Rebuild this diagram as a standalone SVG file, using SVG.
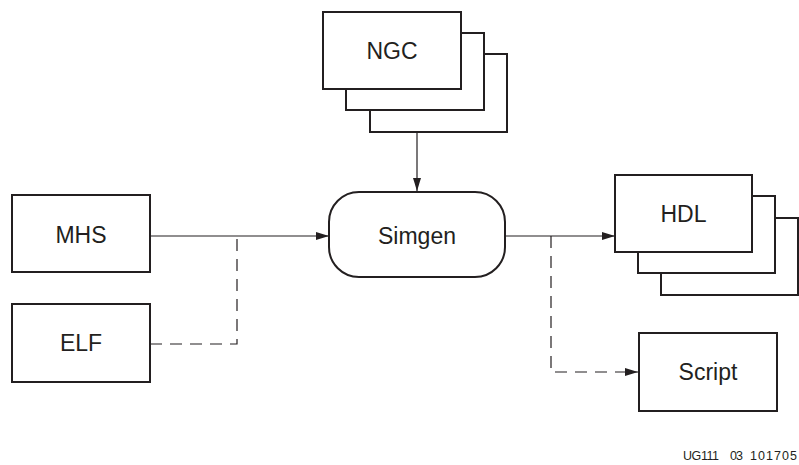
<svg xmlns="http://www.w3.org/2000/svg" width="799" height="465" viewBox="0 0 799 465">
<style>
.box{fill:#fff;stroke:#231f20;stroke-width:2}
.lbl{font-family:"Liberation Sans",Arial,sans-serif;font-size:23px;fill:#231f20;text-anchor:middle}
.ln{fill:none;stroke:#231f20;stroke-width:1.2}
.dash{stroke-dasharray:12,8}
.foot{font-family:"Liberation Sans",Arial,sans-serif;font-size:12.5px;fill:#231f20}
</style>
<defs>
<marker id="ah" markerWidth="13" markerHeight="8" refX="13" refY="4" orient="auto" markerUnits="userSpaceOnUse">
<path d="M0,0 L13,4 L0,8 Z" fill="#231f20"/>
</marker>
</defs>
<rect width="799" height="465" fill="#fff"/>
<g id="connectors">
<line class="ln" x1="417" y1="132" x2="417" y2="191" marker-end="url(#ah)"/>
<line class="ln" x1="150" y1="236" x2="329" y2="236" marker-end="url(#ah)"/>
<polyline class="ln dash" points="150,344 237,344 237,236"/>
<line class="ln" x1="505" y1="236" x2="615" y2="236" marker-end="url(#ah)"/>
<polyline class="ln dash" points="551,236 551,372 638,372" marker-end="url(#ah)"/>
</g>
<g id="ngc">
<rect class="box" x="370" y="54" width="137" height="78"/>
<rect class="box" x="346" y="33" width="138" height="77"/>
<rect class="box" x="323" y="12" width="138" height="77"/>
<text class="lbl" x="392" y="58.5">NGC</text>
</g>
<g id="simgen">
<rect class="box" x="329" y="192" width="176" height="85" rx="30" ry="30"/>
<text class="lbl" x="417" y="244">Simgen</text>
</g>
<g id="mhs">
<rect class="box" x="12" y="195" width="138" height="77"/>
<text class="lbl" x="81" y="243">MHS</text>
</g>
<g id="elf">
<rect class="box" x="12" y="304" width="138" height="78"/>
<text class="lbl" x="81" y="351">ELF</text>
</g>
<g id="hdl">
<rect class="box" x="661" y="218" width="137" height="77"/>
<rect class="box" x="638" y="196" width="137" height="77"/>
<rect class="box" x="615" y="175" width="137" height="77"/>
<text class="lbl" x="683.5" y="222">HDL</text>
</g>
<g id="script">
<rect class="box" x="639" y="333" width="138" height="78"/>
<text class="lbl" x="708" y="380">Script</text>
</g>
<text class="foot" y="460"><tspan x="683" textLength="36">UG111</tspan> <tspan x="730" textLength="13">03</tspan> <tspan x="750" textLength="47">101705</tspan></text>
</svg>
